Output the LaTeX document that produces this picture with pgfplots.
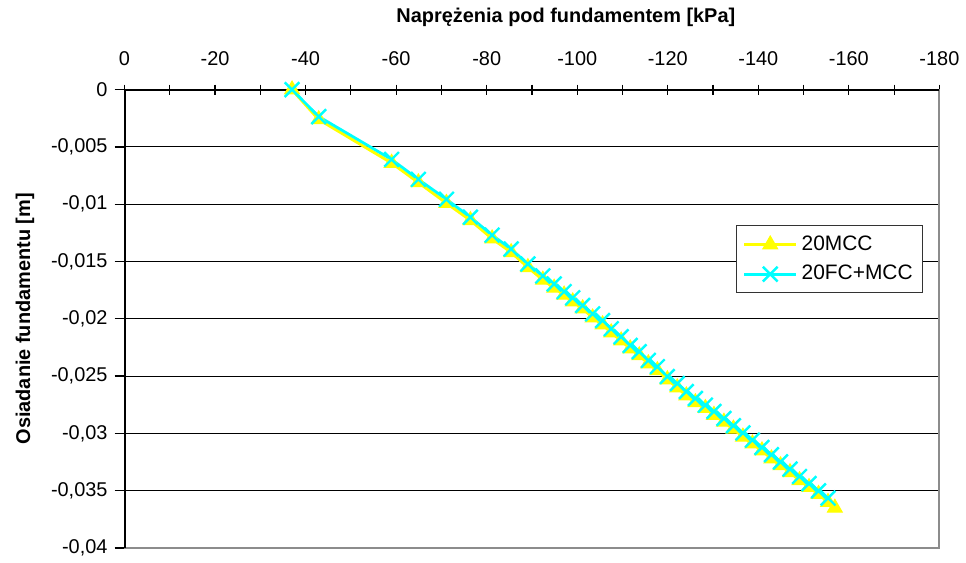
\documentclass[border=0pt]{standalone}
\usepackage{fontspec}
\setmainfont{Liberation Sans}
\usepackage{pgfplots}
\pgfplotsset{compat=1.18}

\definecolor{ylw}{RGB}{255,255,0}
\definecolor{cyn}{RGB}{0,255,255}

\begin{document}
\fontsize{10pt}{12pt}\selectfont
\begin{tikzpicture}
% invisible frame so the page has the reference proportions
\path (-62.5pt,45pt) rectangle (420.5pt,-236.5pt);
\begin{axis}[
    at={(0pt,0pt)}, anchor=north west,
    scale only axis,
    width=409pt, height=230pt,
    x dir=reverse,
    xmin=-180, xmax=0,
    ymin=-0.04, ymax=0,
    xtick={0,-20,...,-180},
    minor xtick={-10,-30,...,-170},
    ytick={0,-0.005,...,-0.04},
    xtick pos=upper, xticklabel pos=upper,
    ytick pos=left,
    xtick align=center, ytick align=outside,
    major tick length=5pt, minor tick length=5pt,
    tick style={black, line width=0.6pt},
    scaled y ticks=false,
    /pgf/number format/.cd, use comma, fixed, precision=3, assume math mode=true,
    /pgfplots/.cd,
    xticklabel style={font=\fontsize{10pt}{12pt}\selectfont, yshift=6pt},
    yticklabel style={font=\fontsize{10pt}{12pt}\selectfont},
    ymajorgrids=true,
    grid style={black, line width=0.5pt},
    axis line style={draw=gray!90, line width=1pt},
    xlabel={\bfseries Naprężenia pod fundamentem [kPa]},
    xlabel style={at={(axis description cs:0.5416,1.1587)}, anchor=center},
    ylabel={\bfseries Osiadanie fundamentu [m]},
    ylabel style={at={(axis description cs:-0.1222,0.5)}, anchor=center},
    clip=false,
    legend style={at={(0.980,0.704)}, anchor=north east, draw=black!80,
        fill=white, line width=0.5pt, font=\fontsize{10.5pt}{12pt}\selectfont,
        row sep=2pt, inner sep=3pt},
    legend cell align=left,
    legend image code/.code={
        \draw[mark repeat=2,mark phase=2,#1]
        plot coordinates {(0pt,0pt)(13pt,0pt)(26pt,0pt)};},
]
\addplot[ylw, line width=1.5pt, mark=triangle*, mark size=4.3pt,
    mark options={fill=ylw, draw=ylw, line width=0.5pt}] coordinates {
(-37.0,0) (-42.9,-0.0026) (-59.0,-0.0064) (-64.9,-0.0081) (-71.1,-0.0099)
(-76.4,-0.0114) (-81.2,-0.0130) (-85.4,-0.0142) (-89.1,-0.0155) (-92.4,-0.0166)
(-94.9,-0.0173) (-97.1,-0.0179) (-99.0,-0.0185) (-101.2,-0.0191) (-103.4,-0.0199)
(-105.6,-0.0205) (-107.5,-0.0212) (-109.7,-0.0219) (-111.7,-0.0226) (-113.7,-0.0232)
(-115.7,-0.0239) (-117.7,-0.0245) (-119.9,-0.0253) (-122.1,-0.0260) (-124.1,-0.0267)
(-126.1,-0.0273) (-128.3,-0.0278) (-130.2,-0.0284) (-132.4,-0.0290) (-134.5,-0.0296)
(-136.6,-0.0303) (-138.7,-0.0309) (-140.8,-0.0315) (-142.9,-0.0322) (-144.9,-0.0328)
(-147.0,-0.0334) (-149.1,-0.0341) (-151.2,-0.0347) (-153.3,-0.0353) (-155.4,-0.0360)
(-156.9,-0.0365)
};
\addlegendentry{20MCC}
\addplot[cyn, line width=1.4pt, mark=x, mark size=5.2pt,
    mark options={line width=1.2pt}] coordinates {
(-37.0,0) (-42.9,-0.00235) (-59.0,-0.00609) (-64.9,-0.00783) (-71.1,-0.00957)
(-76.4,-0.01113) (-81.2,-0.01270) (-85.4,-0.01391) (-89.1,-0.01522) (-92.4,-0.01626)
(-94.9,-0.01696) (-97.1,-0.01763) (-99.0,-0.01817) (-101.2,-0.01884) (-103.4,-0.01957)
(-105.6,-0.02015) (-107.5,-0.02087) (-109.7,-0.02157) (-111.7,-0.02232) (-113.7,-0.02287)
(-115.7,-0.02363) (-117.7,-0.02418) (-119.9,-0.02504) (-122.1,-0.02565) (-124.1,-0.02635)
(-126.1,-0.02696) (-128.3,-0.02754) (-130.2,-0.02809) (-132.4,-0.02870) (-134.5,-0.02933)
(-136.6,-0.02996) (-138.7,-0.03059) (-140.8,-0.03123) (-142.9,-0.03186) (-144.9,-0.03249)
(-147.0,-0.03312) (-149.1,-0.03376) (-151.2,-0.03439) (-153.3,-0.03502) (-155.4,-0.03565)
};
\addlegendentry{20FC+MCC}
% black axis lines on top and left
\draw[black, line width=1pt] (rel axis cs:0,0) -- (rel axis cs:0,1) -- (rel axis cs:1,1);
\end{axis}
\end{tikzpicture}
\end{document}
